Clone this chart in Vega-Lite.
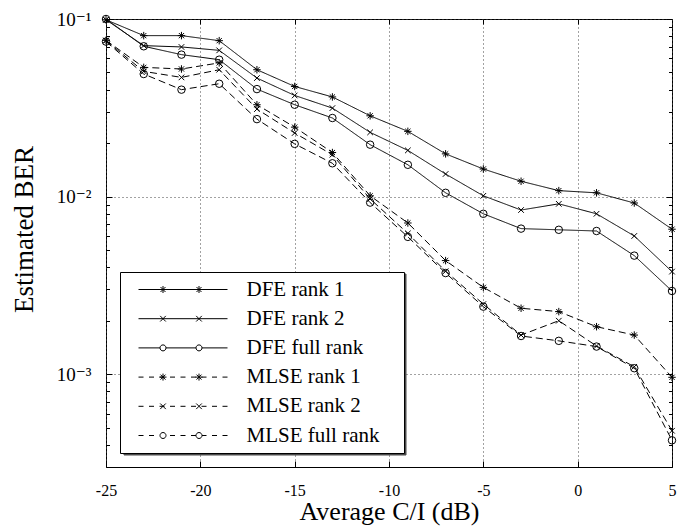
{
  "$schema": "https://vega.github.io/schema/vega-lite/v6.json",
  "width": 566,
  "height": 448,
  "autosize": {"type": "none"},
  "padding": {"left": 106, "top": 19, "right": 23, "bottom": 62},
  "background": "white",
  "config": {
    "view": {"stroke": "black", "strokeWidth": 1},
    "axis": {"labelFont": "Liberation Serif, Times New Roman, DejaVu Serif, Noto Serif, serif", "titleFont": "Liberation Serif, Times New Roman, DejaVu Serif, Noto Serif, serif", "labelColor": "black", "titleColor": "black", "tickColor": "black", "titleFontWeight": "normal", "domain": false, "tickWidth": 1}
  },
  "data": {"values": [
    {"series": "DFE rank 1", "method": "DFE", "snr": -25, "ber": 0.099},
    {"series": "DFE rank 1", "method": "DFE", "snr": -23, "ber": 0.0806},
    {"series": "DFE rank 1", "method": "DFE", "snr": -21, "ber": 0.0806},
    {"series": "DFE rank 1", "method": "DFE", "snr": -19, "ber": 0.0755},
    {"series": "DFE rank 1", "method": "DFE", "snr": -17, "ber": 0.0518},
    {"series": "DFE rank 1", "method": "DFE", "snr": -15, "ber": 0.0417},
    {"series": "DFE rank 1", "method": "DFE", "snr": -13, "ber": 0.0364},
    {"series": "DFE rank 1", "method": "DFE", "snr": -11, "ber": 0.0285},
    {"series": "DFE rank 1", "method": "DFE", "snr": -9, "ber": 0.0233},
    {"series": "DFE rank 1", "method": "DFE", "snr": -7, "ber": 0.0174},
    {"series": "DFE rank 1", "method": "DFE", "snr": -5, "ber": 0.0143},
    {"series": "DFE rank 1", "method": "DFE", "snr": -3, "ber": 0.0122},
    {"series": "DFE rank 1", "method": "DFE", "snr": -1, "ber": 0.0108},
    {"series": "DFE rank 1", "method": "DFE", "snr": 1, "ber": 0.0105},
    {"series": "DFE rank 1", "method": "DFE", "snr": 3, "ber": 0.0092},
    {"series": "DFE rank 1", "method": "DFE", "snr": 5, "ber": 0.00655},
    {"series": "DFE rank 2", "method": "DFE", "snr": -25, "ber": 0.099},
    {"series": "DFE rank 2", "method": "DFE", "snr": -23, "ber": 0.0708},
    {"series": "DFE rank 2", "method": "DFE", "snr": -21, "ber": 0.0696},
    {"series": "DFE rank 2", "method": "DFE", "snr": -19, "ber": 0.0666},
    {"series": "DFE rank 2", "method": "DFE", "snr": -17, "ber": 0.0465},
    {"series": "DFE rank 2", "method": "DFE", "snr": -15, "ber": 0.0371},
    {"series": "DFE rank 2", "method": "DFE", "snr": -13, "ber": 0.0315},
    {"series": "DFE rank 2", "method": "DFE", "snr": -11, "ber": 0.023},
    {"series": "DFE rank 2", "method": "DFE", "snr": -9, "ber": 0.0182},
    {"series": "DFE rank 2", "method": "DFE", "snr": -7, "ber": 0.0134},
    {"series": "DFE rank 2", "method": "DFE", "snr": -5, "ber": 0.0101},
    {"series": "DFE rank 2", "method": "DFE", "snr": -3, "ber": 0.0084},
    {"series": "DFE rank 2", "method": "DFE", "snr": -1, "ber": 0.0091},
    {"series": "DFE rank 2", "method": "DFE", "snr": 1, "ber": 0.008},
    {"series": "DFE rank 2", "method": "DFE", "snr": 3, "ber": 0.006},
    {"series": "DFE rank 2", "method": "DFE", "snr": 5, "ber": 0.00378},
    {"series": "DFE full rank", "method": "DFE", "snr": -25, "ber": 0.1},
    {"series": "DFE full rank", "method": "DFE", "snr": -23, "ber": 0.0702},
    {"series": "DFE full rank", "method": "DFE", "snr": -21, "ber": 0.063},
    {"series": "DFE full rank", "method": "DFE", "snr": -19, "ber": 0.059},
    {"series": "DFE full rank", "method": "DFE", "snr": -17, "ber": 0.0403},
    {"series": "DFE full rank", "method": "DFE", "snr": -15, "ber": 0.0329},
    {"series": "DFE full rank", "method": "DFE", "snr": -13, "ber": 0.0277},
    {"series": "DFE full rank", "method": "DFE", "snr": -11, "ber": 0.0196},
    {"series": "DFE full rank", "method": "DFE", "snr": -9, "ber": 0.0151},
    {"series": "DFE full rank", "method": "DFE", "snr": -7, "ber": 0.0105},
    {"series": "DFE full rank", "method": "DFE", "snr": -5, "ber": 0.008},
    {"series": "DFE full rank", "method": "DFE", "snr": -3, "ber": 0.0066},
    {"series": "DFE full rank", "method": "DFE", "snr": -1, "ber": 0.0065},
    {"series": "DFE full rank", "method": "DFE", "snr": 1, "ber": 0.0064},
    {"series": "DFE full rank", "method": "DFE", "snr": 3, "ber": 0.00465},
    {"series": "DFE full rank", "method": "DFE", "snr": 5, "ber": 0.00294},
    {"series": "MLSE rank 1", "method": "MLSE", "snr": -25, "ber": 0.0758},
    {"series": "MLSE rank 1", "method": "MLSE", "snr": -23, "ber": 0.0534},
    {"series": "MLSE rank 1", "method": "MLSE", "snr": -21, "ber": 0.0523},
    {"series": "MLSE rank 1", "method": "MLSE", "snr": -19, "ber": 0.0566},
    {"series": "MLSE rank 1", "method": "MLSE", "snr": -17, "ber": 0.0329},
    {"series": "MLSE rank 1", "method": "MLSE", "snr": -15, "ber": 0.0246},
    {"series": "MLSE rank 1", "method": "MLSE", "snr": -13, "ber": 0.0177},
    {"series": "MLSE rank 1", "method": "MLSE", "snr": -11, "ber": 0.0101},
    {"series": "MLSE rank 1", "method": "MLSE", "snr": -9, "ber": 0.0071},
    {"series": "MLSE rank 1", "method": "MLSE", "snr": -7, "ber": 0.00436},
    {"series": "MLSE rank 1", "method": "MLSE", "snr": -5, "ber": 0.00308},
    {"series": "MLSE rank 1", "method": "MLSE", "snr": -3, "ber": 0.00235},
    {"series": "MLSE rank 1", "method": "MLSE", "snr": -1, "ber": 0.00225},
    {"series": "MLSE rank 1", "method": "MLSE", "snr": 1, "ber": 0.00185},
    {"series": "MLSE rank 1", "method": "MLSE", "snr": 3, "ber": 0.00166},
    {"series": "MLSE rank 1", "method": "MLSE", "snr": 5, "ber": 0.00096},
    {"series": "MLSE rank 2", "method": "MLSE", "snr": -25, "ber": 0.0755},
    {"series": "MLSE rank 2", "method": "MLSE", "snr": -23, "ber": 0.0507},
    {"series": "MLSE rank 2", "method": "MLSE", "snr": -21, "ber": 0.0469},
    {"series": "MLSE rank 2", "method": "MLSE", "snr": -19, "ber": 0.0518},
    {"series": "MLSE rank 2", "method": "MLSE", "snr": -17, "ber": 0.0311},
    {"series": "MLSE rank 2", "method": "MLSE", "snr": -15, "ber": 0.0228},
    {"series": "MLSE rank 2", "method": "MLSE", "snr": -13, "ber": 0.0172},
    {"series": "MLSE rank 2", "method": "MLSE", "snr": -11, "ber": 0.0097},
    {"series": "MLSE rank 2", "method": "MLSE", "snr": -9, "ber": 0.0062},
    {"series": "MLSE rank 2", "method": "MLSE", "snr": -7, "ber": 0.0038},
    {"series": "MLSE rank 2", "method": "MLSE", "snr": -5, "ber": 0.00248},
    {"series": "MLSE rank 2", "method": "MLSE", "snr": -3, "ber": 0.00166},
    {"series": "MLSE rank 2", "method": "MLSE", "snr": -1, "ber": 0.002},
    {"series": "MLSE rank 2", "method": "MLSE", "snr": 1, "ber": 0.00144},
    {"series": "MLSE rank 2", "method": "MLSE", "snr": 3, "ber": 0.0011},
    {"series": "MLSE rank 2", "method": "MLSE", "snr": 5, "ber": 0.00048},
    {"series": "MLSE full rank", "method": "MLSE", "snr": -25, "ber": 0.0746},
    {"series": "MLSE full rank", "method": "MLSE", "snr": -23, "ber": 0.049},
    {"series": "MLSE full rank", "method": "MLSE", "snr": -21, "ber": 0.04},
    {"series": "MLSE full rank", "method": "MLSE", "snr": -19, "ber": 0.0432},
    {"series": "MLSE full rank", "method": "MLSE", "snr": -17, "ber": 0.0273},
    {"series": "MLSE full rank", "method": "MLSE", "snr": -15, "ber": 0.0198},
    {"series": "MLSE full rank", "method": "MLSE", "snr": -13, "ber": 0.0154},
    {"series": "MLSE full rank", "method": "MLSE", "snr": -11, "ber": 0.00925},
    {"series": "MLSE full rank", "method": "MLSE", "snr": -9, "ber": 0.00593},
    {"series": "MLSE full rank", "method": "MLSE", "snr": -7, "ber": 0.00371},
    {"series": "MLSE full rank", "method": "MLSE", "snr": -5, "ber": 0.0024},
    {"series": "MLSE full rank", "method": "MLSE", "snr": -3, "ber": 0.00164},
    {"series": "MLSE full rank", "method": "MLSE", "snr": -1, "ber": 0.00154},
    {"series": "MLSE full rank", "method": "MLSE", "snr": 1, "ber": 0.00143},
    {"series": "MLSE full rank", "method": "MLSE", "snr": 3, "ber": 0.00108},
    {"series": "MLSE full rank", "method": "MLSE", "snr": 5, "ber": 0.000424}
  ]},
  "layer": [
    {
      "mark": {"type": "line", "strokeWidth": 1, "color": "black"},
      "encoding": {
        "x": {"field": "snr", "type": "quantitative", "scale": {"domain": [-25, 5], "nice": false, "zero": false},
          "axis": {"orient": "bottom", "values": [-25, -20, -15, -10, -5, 0, 5], "labelExpr": "'' + datum.value", "labelFontSize": 16, "labelBaseline": "alphabetic", "labelPadding": 34, "labelFlush": false, "labelOverlap": false, "tickSize": -6, "grid": true, "gridColor": "#444", "gridDash": [1, 3], "title": "Average C/I (dB)", "titleFontSize": 26, "titleBaseline": "alphabetic", "titleY": 52}},
        "y": {"field": "ber", "type": "quantitative", "scale": {"type": "log", "domain": [0.0003, 0.1], "nice": false},
          "axis": {"orient": "left", "values": [0.001, 0.01, 0.1], "labelExpr": "datum.value < 0.005 ? '10⁻³' : datum.value < 0.05 ? '10⁻²' : '10⁻¹'", "labelFontSize": 19, "labelPadding": 21, "labelBaseline": "middle", "labelFlush": false, "labelOverlap": false, "tickSize": -6, "grid": true, "gridColor": "#444", "gridDash": [1, 3], "title": "Estimated BER", "titleFontSize": 27, "titleX": -74, "titleY": 210, "titleAngle": 270, "titleBaseline": "alphabetic", "titleAlign": "center"}},
        "detail": {"field": "series", "type": "nominal"},
        "strokeDash": {"field": "method", "type": "nominal", "scale": {"domain": ["DFE", "MLSE"], "range": [[1, 0], [7, 4]]}, "legend": null}
      }
    },
    {
      "transform": [{"filter": {"field": "series", "oneOf": ["DFE rank 1", "MLSE rank 1"]}}],
      "mark": {"type": "point", "shape": "M-1,0H1M0,-1V1M-0.7,-0.7L0.7,0.7M-0.7,0.7L0.7,-0.7", "filled": false, "size": 56, "strokeWidth": 1, "color": "black", "opacity": 1},
      "encoding": {
        "x": {"field": "snr", "type": "quantitative", "scale": {"domain": [-25, 5], "nice": false, "zero": false},
          "axis": {"orient": "top", "values": [-20, -15, -10, -5, 0], "labels": false, "tickSize": -5, "grid": false, "title": null}},
        "y": {"field": "ber", "type": "quantitative", "scale": {"type": "log", "domain": [0.0003, 0.1], "nice": false},
          "axis": {"orient": "right", "values": [0.001, 0.01, 0.1], "labels": false, "tickSize": -6, "grid": false, "title": null}}
      }
    },
    {
      "transform": [{"filter": {"field": "series", "oneOf": ["DFE rank 2", "MLSE rank 2"]}}],
      "mark": {"type": "point", "shape": "M-0.75,-0.75L0.75,0.75M-0.75,0.75L0.75,-0.75", "filled": false, "size": 56, "strokeWidth": 1, "color": "black", "opacity": 1},
      "encoding": {
        "x": {"field": "snr", "type": "quantitative", "scale": {"domain": [-25, 5], "nice": false, "zero": false}, "axis": null},
        "y": {"field": "ber", "type": "quantitative", "scale": {"type": "log", "domain": [0.0003, 0.1], "nice": false}, "axis": null}
      }
    },
    {
      "transform": [{"filter": {"field": "series", "oneOf": ["DFE full rank", "MLSE full rank"]}}],
      "mark": {"type": "point", "shape": "circle", "filled": false, "size": 56, "strokeWidth": 1, "color": "black", "opacity": 1},
      "encoding": {
        "x": {"field": "snr", "type": "quantitative", "scale": {"domain": [-25, 5], "nice": false, "zero": false}, "axis": null},
        "y": {"field": "ber", "type": "quantitative", "scale": {"type": "log", "domain": [0.0003, 0.1], "nice": false}, "axis": null}
      }
    },
    {
      "mark": {"type": "point", "opacity": 0, "filled": true},
      "encoding": {
        "x": {"field": "snr", "type": "quantitative", "scale": {"domain": [-25, 5], "nice": false, "zero": false}, "axis": null},
        "y": {"field": "ber", "type": "quantitative", "scale": {"type": "log", "domain": [0.0003, 0.1], "nice": false}, "axis": null},
        "fill": {"field": "series", "type": "nominal",
          "scale": {"domain": ["MLSE full rank", "MLSE rank 2", "MLSE rank 1", "DFE full rank", "DFE rank 2", "DFE rank 1"], "range": ["#4a4a4a", "#4a4a4a", "#4a4a4a", "#4a4a4a", "#4a4a4a", "#4a4a4a"]},
          "legend": {"orient": "none", "legendX": 17.5, "legendY": 254.5, "title": null, "padding": 7, "rowPadding": 7.2, "symbolType": "M-4.45,-1.05H21.15V1.05H-4.45Z", "symbolSize": 400, "symbolOffset": 45.5, "labelOffset": 53, "labelExpr": "''", "labelFont": "Liberation Serif, Times New Roman, DejaVu Serif, Noto Serif, serif", "labelFontSize": 21, "fillColor": "#4a4a4a", "strokeColor": "#4a4a4a", "symbolStrokeColor": "#4a4a4a", "symbolFillColor": "#4a4a4a", "symbolStrokeWidth": 0, "symbolOpacity": 1}}
      }
    },
    {
      "mark": {"type": "point", "opacity": 0, "filled": false, "color": "black"},
      "encoding": {
        "x": {"field": "snr", "type": "quantitative", "scale": {"domain": [-25, 5], "nice": false, "zero": false}, "axis": null},
        "y": {"field": "ber", "type": "quantitative", "scale": {"type": "log", "domain": [0.0003, 0.1], "nice": false},
          "axis": {"orient": "left", "values": [0.0003, 0.0004, 0.0005, 0.0006, 0.0007, 0.0008, 0.0009, 0.002, 0.003, 0.004, 0.005, 0.006, 0.007, 0.008, 0.009, 0.02, 0.03, 0.04, 0.05, 0.06, 0.07, 0.08, 0.09], "labels": false, "tickSize": -3.5, "grid": false, "title": null}},
        "shape": {"field": "series", "type": "nominal",
          "scale": {"domain": ["DFE rank 1", "DFE rank 2", "DFE full rank", "MLSE rank 1", "MLSE rank 2", "MLSE full rank"],
            "range": [
              "M-4.45,0H4.45M-2.35,0H-1.65M-2,-0.35V0.35M-2.25,-0.25L-1.75,0.25M-2.25,0.25L-1.75,-0.25M1.25,0H1.95M1.6,-0.35V0.35M1.35,-0.25L1.85,0.25M1.35,0.25L1.85,-0.25M21.15,0h0",
              "M-4.45,0H4.45M-2.28,-0.28L-1.72,0.28M-2.28,0.28L-1.72,-0.28M1.32,-0.28L1.88,0.28M1.32,0.28L1.88,-0.28M21.15,0h0",
              "M-4.45,0H-2.3M-1.7,0H1.3M1.9,0H4.45M-1.7,0A0.3,0.3,0,1,1,-2.3,0A0.3,0.3,0,1,1,-1.7,0M1.9,0A0.3,0.3,0,1,1,1.3,0A0.3,0.3,0,1,1,1.9,0M21.15,0h0",
              "M-4.45,0H-3.95M-3.4,0H-2.9M-2.35,0H-1.85M-1.3,0H-0.8M-0.25,0H0.25M0.8,0H1.3M1.85,0H2.35M2.9,0H3.4M3.95,0H4.45M-2.35,0H-1.65M-2,-0.35V0.35M-2.25,-0.25L-1.75,0.25M-2.25,0.25L-1.75,-0.25M1.25,0H1.95M1.6,-0.35V0.35M1.35,-0.25L1.85,0.25M1.35,0.25L1.85,-0.25M21.15,0h0",
              "M-4.45,0H-3.95M-3.4,0H-2.9M-2.35,0H-1.85M-1.3,0H-0.8M-0.25,0H0.25M0.8,0H1.3M1.85,0H2.35M2.9,0H3.4M3.95,0H4.45M-2.28,-0.28L-1.72,0.28M-2.28,0.28L-1.72,-0.28M1.32,-0.28L1.88,0.28M1.32,0.28L1.88,-0.28M21.15,0h0",
              "M-4.45,0H-3.95M-3.4,0H-2.9M-1.3,0H-0.8M-0.25,0H0.25M0.8,0H1.3M1.9,0H2.35M2.9,0H3.4M3.95,0H4.45M-1.7,0A0.3,0.3,0,1,1,-2.3,0A0.3,0.3,0,1,1,-1.7,0M1.9,0A0.3,0.3,0,1,1,1.3,0A0.3,0.3,0,1,1,1.9,0M21.15,0h0"
            ]},
          "legend": {"orient": "bottom-left", "offset": 14, "title": null, "padding": 7, "rowPadding": 7.2, "symbolSize": 400, "symbolOffset": 45.5, "labelOffset": 53, "labelFont": "Liberation Serif, Times New Roman, DejaVu Serif, Noto Serif, serif", "labelFontSize": 21, "labelColor": "black", "labelLimit": 300, "fillColor": "white", "strokeColor": "black", "symbolStrokeColor": "black", "symbolStrokeWidth": 1, "symbolFillColor": "white", "symbolOpacity": 1}}
      }
    },
    {
      "mark": {"type": "point", "opacity": 0},
      "encoding": {
        "x": {"field": "snr", "type": "quantitative", "scale": {"domain": [-25, 5], "nice": false, "zero": false}, "axis": null},
        "y": {"field": "ber", "type": "quantitative", "scale": {"type": "log", "domain": [0.0003, 0.1], "nice": false},
          "axis": {"orient": "right", "values": [0.0003, 0.0004, 0.0005, 0.0006, 0.0007, 0.0008, 0.0009, 0.002, 0.003, 0.004, 0.005, 0.006, 0.007, 0.008, 0.009, 0.02, 0.03, 0.04, 0.05, 0.06, 0.07, 0.08, 0.09], "labels": false, "tickSize": -3.5, "grid": false, "title": null}}
      }
    }
  ],
  "resolve": {"axis": {"x": "independent", "y": "independent"}}
}
